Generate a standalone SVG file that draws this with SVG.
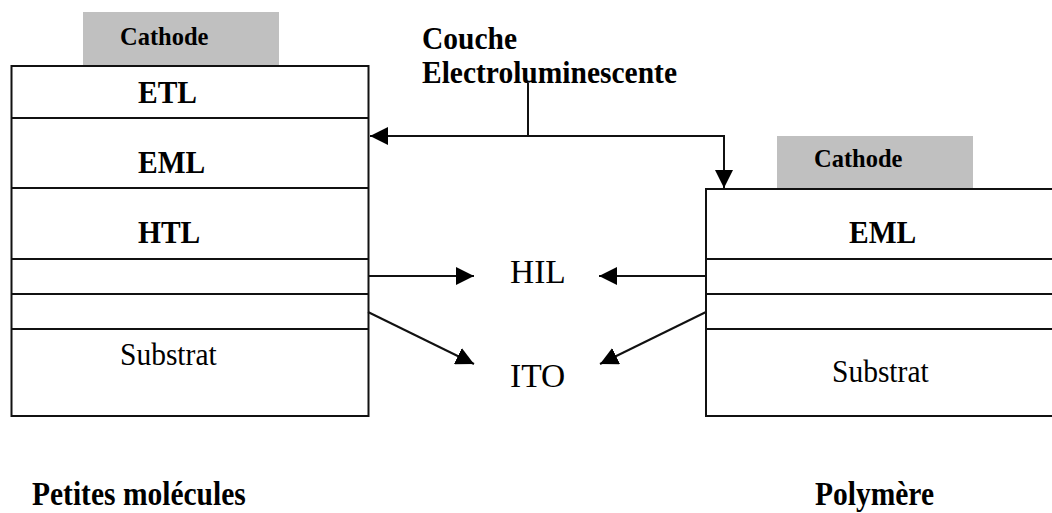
<svg xmlns="http://www.w3.org/2000/svg" width="1052" height="513" viewBox="0 0 1052 513">
<style>
.box{fill:#fff;stroke:#111;stroke-width:2}
.cat{fill:#c0c0c0;stroke:none}
.sep{stroke:#111;stroke-width:2}
.con{fill:none;stroke:#111;stroke-width:2}
.b{font-family:"Liberation Serif","Times New Roman",serif;font-weight:bold;fill:#000}
.r{font-family:"Liberation Serif","Times New Roman",serif;fill:#000}
.big{font-size:29.5px}
.sm{font-size:24.5px}
.lab{font-size:33.5px}
</style>
<defs>
<marker id="ah" markerUnits="userSpaceOnUse" markerWidth="18" markerHeight="18" refX="18" refY="9" orient="auto">
<path d="M0,0 L18,9 L0,18 z" fill="#000"/>
</marker>
</defs>
<rect width="1052" height="513" fill="#fff"/>

<g id="left-stack">
<rect class="cat" x="83" y="12" width="196" height="54"/>
<text class="b sm" x="120" y="45">Cathode</text>
<rect class="box" x="11.5" y="66" width="357" height="350"/>
<line class="sep" x1="11.5" y1="118" x2="368.5" y2="118"/>
<line class="sep" x1="11.5" y1="188" x2="368.5" y2="188"/>
<line class="sep" x1="11.5" y1="259" x2="368.5" y2="259"/>
<line class="sep" x1="11.5" y1="294" x2="368.5" y2="294"/>
<line class="sep" x1="11.5" y1="329" x2="368.5" y2="329"/>
<text class="b big" transform="matrix(1 0 0 1.1 138 103)">ETL</text>
<text class="b big" transform="matrix(1 0 0 1.1 138 173)">EML</text>
<text class="b big" transform="matrix(1 0 0 1.1 138 243)">HTL</text>
<text class="r big" transform="matrix(1 0 0 1.05 120 365)">Substrat</text>
</g>

<g id="right-stack">
<rect class="cat" x="777" y="136" width="196" height="53"/>
<text class="b sm" x="814" y="167">Cathode</text>
<rect class="box" x="706" y="189" width="360" height="227"/>
<line class="sep" x1="706" y1="259" x2="1060" y2="259"/>
<line class="sep" x1="706" y1="294" x2="1060" y2="294"/>
<line class="sep" x1="706" y1="329" x2="1060" y2="329"/>
<text class="b big" transform="matrix(1 0 0 1.1 849 243)">EML</text>
<text class="r big" transform="matrix(1 0 0 1.05 832 382)">Substrat</text>
</g>

<g id="label-couche">
<text class="b big" transform="matrix(1 0 0 1.1 422 49)">Couche</text>
<text class="b big" transform="matrix(1 0 0 1.1 422 83)">Electroluminescente</text>
</g>

<g id="label-hil"><text class="r lab" x="510" y="283">HIL</text></g>
<g id="label-ito"><text class="r lab" x="510" y="387">ITO</text></g>

<g id="label-petites"><text class="b big" transform="matrix(1 0 0 1.12 32 505)">Petites molécules</text></g>
<g id="label-polymere"><text class="b big" transform="matrix(1 0 0 1.12 815 505)">Polymère</text></g>

<g id="connectors">
<path class="con" d="M528,83 V136"/>
<path class="con" d="M528,136 H370" marker-end="url(#ah)"/>
<path class="con" d="M528,136 H724 V188" marker-end="url(#ah)"/>
<path class="con" d="M368,276 H474" marker-end="url(#ah)"/>
<path class="con" d="M706,276 H599" marker-end="url(#ah)"/>
<path class="con" d="M368,312 L474,364" marker-end="url(#ah)"/>
<path class="con" d="M706,312 L600,364" marker-end="url(#ah)"/>
</g>
</svg>
